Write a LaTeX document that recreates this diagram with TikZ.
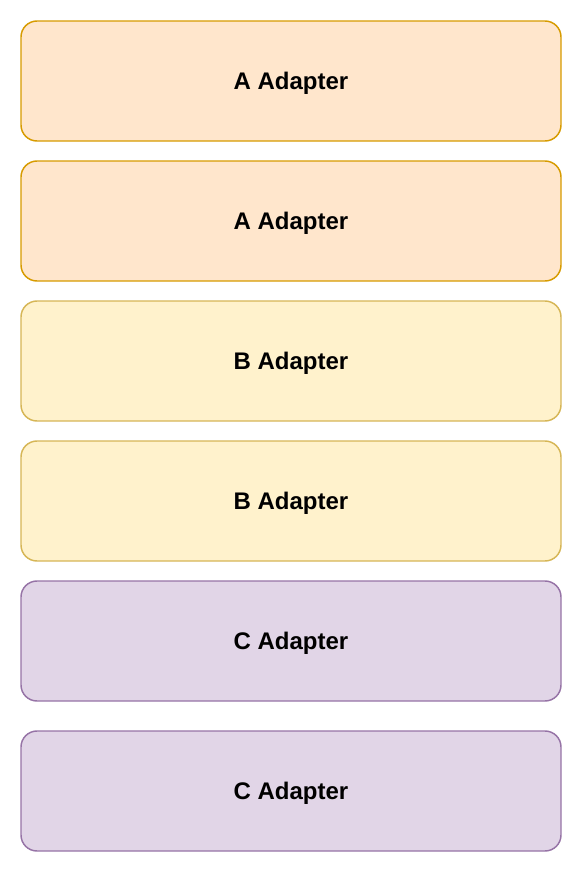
\documentclass[tikz,border=0pt]{standalone}
\usepackage{fontspec}
\setmainfont{Liberation Sans}
\definecolor{orfill}{HTML}{FFE6CC}\definecolor{ordraw}{HTML}{D79B00}
\definecolor{yefill}{HTML}{FFF2CC}\definecolor{yedraw}{HTML}{D6B656}
\definecolor{pufill}{HTML}{E1D5E7}\definecolor{pudraw}{HTML}{9673A6}
\begin{document}
\begin{tikzpicture}[x=0.75pt,y=-0.75pt,
  adapter/.style={rectangle,rounded corners=12pt,line width=1.1pt,minimum width=540*0.75pt,minimum height=120*0.75pt,inner sep=0pt,text height=13pt,text depth=0pt,font=\fontsize{18}{21}\selectfont\bfseries},
  aA/.style={adapter,fill=orfill,draw=ordraw},
  aB/.style={adapter,fill=yefill,draw=yedraw},
  aC/.style={adapter,fill=pufill,draw=pudraw}]
\useasboundingbox (0,0) rectangle (582,872);
\node[aA] (a1) at (291,81) {A Adapter};
\node[aA] (a2) at (291,221) {A Adapter};
\node[aB] (b1) at (291,361) {B Adapter};
\node[aB] (b2) at (291,501) {B Adapter};
\node[aC] (c1) at (291,641) {C Adapter};
\node[aC] (c2) at (291,791) {C Adapter};
\end{tikzpicture}
\end{document}
